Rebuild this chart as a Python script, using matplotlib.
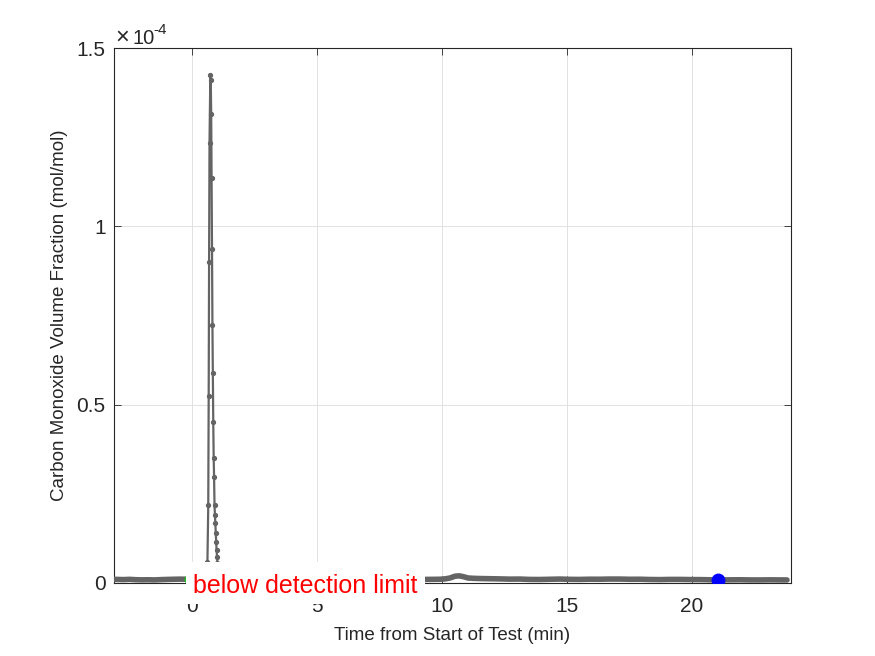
import numpy as np
import matplotlib
matplotlib.use("Agg")
import matplotlib.pyplot as plt
from matplotlib.ticker import FuncFormatter
from matplotlib.patches import Rectangle

plt.rcParams['font.family'] = ['Liberation Sans', 'DejaVu Sans']

SCALE = 1e-4

# linea base antes del pico (min, x1e-4)
t_pre = [-3.25, -3.0, -2.75, -2.5, -2.25, -2.0, -1.75, -1.5, -1.25, -1.0,
         -0.75, -0.5, -0.25, 0.0, 0.3, 0.6]
co_pre = [0.0105, 0.0100, 0.0095, 0.0102, 0.0092, 0.0088, 0.0090, 0.0086, 0.0094, 0.0100,
          0.0104, 0.0108, 0.0105, 0.0100, 0.0100, 0.0100]

# pico (muestreo ~1 s)
t_peak = [0.600, 0.617, 0.650, 0.667, 0.683, 0.700, 0.733, 0.750, 0.767, 0.783,
          0.800, 0.817, 0.833, 0.850, 0.867, 0.883, 0.900, 0.917, 0.933, 0.950,
          0.967, 0.983, 1.000, 1.017, 1.033, 1.050, 1.067, 1.083, 1.100, 1.150, 1.200]
co_peak = [0.010, 0.060, 0.219, 0.524, 0.900, 1.234, 1.424, 1.410, 1.315, 1.136,
           0.936, 0.723, 0.589, 0.451, 0.350, 0.297, 0.219, 0.191, 0.168, 0.140,
           0.115, 0.093, 0.073, 0.056, 0.036, 0.025, 0.018, 0.014, 0.012, 0.011, 0.011]

# linea base despues del pico
t_post = [1.2, 3.0, 6.0, 9.0, 9.32, 9.6, 9.92, 10.12, 10.32, 10.52, 10.68, 10.84, 11.04,
          11.28, 11.52, 11.9, 12.32, 12.7, 13.12, 13.5, 13.92, 14.3, 14.72, 15.1,
          15.52, 15.9, 16.32, 16.7, 17.12, 17.5, 17.92, 18.3, 18.72, 19.1, 19.52,
          19.9, 20.32, 20.7, 21.04, 21.5, 21.92, 22.3, 22.72, 23.1, 23.5, 23.8]
co_post = [0.011, 0.010, 0.010, 0.010, 0.0100, 0.0102, 0.0105, 0.0115, 0.0140, 0.0190, 0.0200,
           0.0180, 0.0140, 0.0130, 0.0125, 0.0120, 0.0115, 0.0108, 0.0110, 0.0100,
           0.0098, 0.0104, 0.0110, 0.0102, 0.0100, 0.0106, 0.0105, 0.0110, 0.0110,
           0.0104, 0.0105, 0.0098, 0.0095, 0.0100, 0.0100, 0.0096, 0.0095, 0.0090,
           0.0085, 0.0088, 0.0090, 0.0086, 0.0085, 0.0088, 0.0086, 0.0085]

# marcadores
t_green, co_green = [-0.15], [0.011]
t_blue, co_blue = [21.04], [0.0085]

gray = '#646464'
txt = '#262626'

fig = plt.figure(figsize=(8.75, 6.56), dpi=100)
ax = fig.add_axes([0.1303, 0.1113, 0.7737, 0.8155])

ax.plot(t_pre, np.array(co_pre) * SCALE, '-', color=gray, lw=4, solid_capstyle='round', zorder=3)
ax.plot(t_post, np.array(co_post) * SCALE, '-', color=gray, lw=4, solid_capstyle='round', zorder=3)
ax.plot(t_peak, np.array(co_peak) * SCALE, '-', color=gray, lw=1.6, marker='o', ms=2.8, zorder=3)
ax.plot(t_green, np.array(co_green) * SCALE, 'o', color='#22bb22', ms=5, zorder=4)
ax.plot(t_blue, np.array(co_blue) * SCALE, 'o', color='#0000ff', ms=9, zorder=4)

ax.set_xlim(-3.12, 23.96)
ax.set_ylim(0, 1.5e-4)
ax.set_xticks([0, 5, 10, 15, 20])
ax.set_yticks([0, 0.5e-4, 1e-4, 1.5e-4])
ax.yaxis.set_major_formatter(FuncFormatter(lambda v, p: f"{v / 1e-4:g}"))

ax.grid(True, color='#dcdcdc', lw=0.6)
ax.set_axisbelow(True)
ax.tick_params(direction='in', length=5, width=0.6, top=True, right=True,
               labelsize=15, colors=txt)
ax.tick_params(axis='x', pad=10)
ax.tick_params(axis='y', pad=6)
for s in ax.spines.values():
    s.set_color(txt)
    s.set_linewidth(0.8)

ax.set_xlabel("Time from Start of Test (min)", fontsize=13.5, color=txt, labelpad=8)
ax.set_ylabel("Carbon Monoxide Volume Fraction (mol/mol)", fontsize=13.5, color=txt, labelpad=6)

# exponente estilo MATLAB
fig.text(115 / 875, 1 - 44 / 656, "\u00d7", fontsize=17, color=txt, ha='left', va='baseline')
fig.text(132 / 875, 1 - 44 / 656, "10", fontsize=14.5, color=txt, ha='left', va='baseline')
fig.text(153 / 875, 1 - 34 / 656, "-4", fontsize=11, color=txt, ha='left', va='baseline')

# cuadro blanco de la anotacion
box_h = 21 / 535 * 1.5e-4
ax.add_patch(Rectangle((-0.24, -box_h), 9.56, 2 * box_h, facecolor='white', edgecolor='none',
                       zorder=9, clip_on=False))
ax.text(4.52, -10 / 535 * 1.5e-4, "below detection limit", color='red', fontsize=18,
        ha='center', va='baseline', zorder=10, clip_on=False)

fig.savefig("out.png", dpi=100)
